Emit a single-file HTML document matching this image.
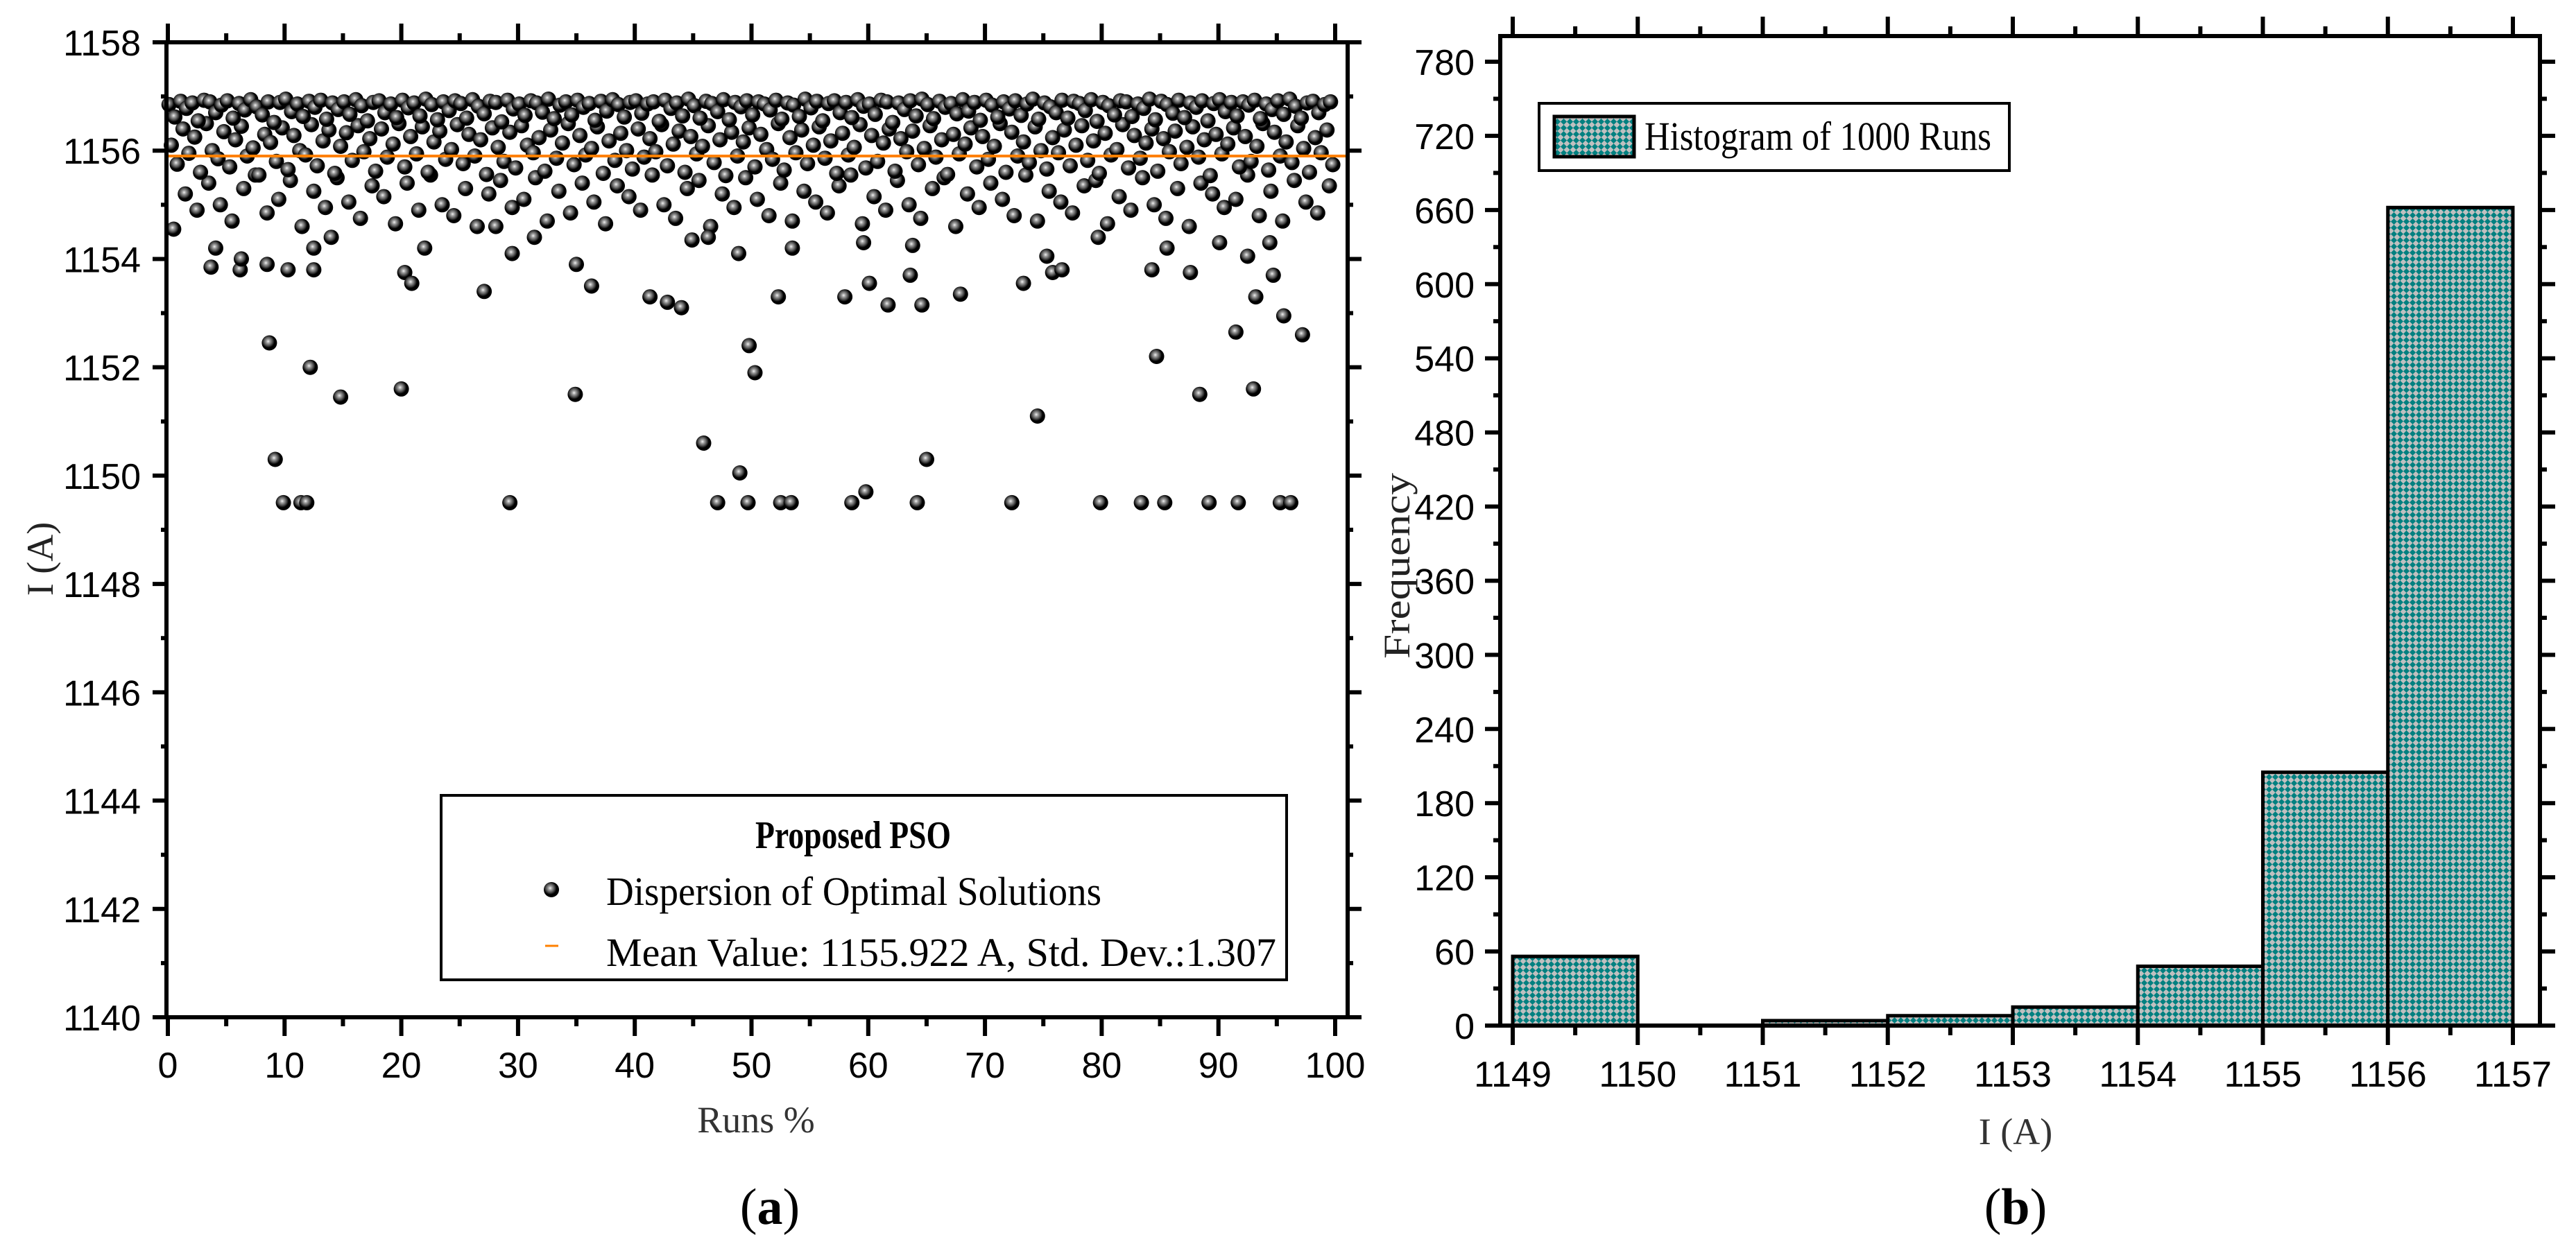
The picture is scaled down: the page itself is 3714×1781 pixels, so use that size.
<!DOCTYPE html>
<html><head><meta charset="utf-8">
<style>
html,body{margin:0;padding:0;background:#fff;}
svg{display:block;}
text{font-family:"Liberation Serif",serif;}
.num{font-family:"Liberation Sans",sans-serif;font-size:52px;fill:#000;}
</style></head>
<body>
<svg id="chart" width="3714" height="1781" viewBox="0 0 3714 1781" xmlns="http://www.w3.org/2000/svg">
<defs>
<radialGradient id="ball" cx="0.42" cy="0.4" r="0.6">
<stop offset="0" stop-color="#f2f2f2"/>
<stop offset="0.2" stop-color="#a0a0a0"/>
<stop offset="0.45" stop-color="#555"/>
<stop offset="0.7" stop-color="#000"/>
<stop offset="1" stop-color="#000"/>
</radialGradient>
<pattern id="hatch" width="9" height="9" patternUnits="userSpaceOnUse">
<rect width="9" height="9" fill="#c0c0c0"/>
<polygon points="4.5,0 9,4.5 4.5,9 0,4.5" fill="#008080"/>
</pattern>
</defs>
<g id="left"></g>
<g id="right"></g>
</svg>
<script>
// ---------- Scatter data ----------
const outlierX=[3.7,4.1,6.2,6.3,8.7,8.5,9.2,9.9,10.3,11.4,11.9,12.2,12.5,12.5,14.0,14.8,20.0,20.3,20.9,22.0,27.1,28.1,29.3,29.5,31.4,34.9,35.0,36.3,41.3,42.8,44.0,44.9,45.9,46.3,47.1,49.0,49.7,49.8,50.3,48.9,52.3,52.5,53.4,53.5,58.6,58.0,59.8,59.6,60.1,61.7,63.6,63.8,64.2,64.6,65.0,67.9,72.3,73.3,74.5,75.3,75.8,76.6,79.7,79.9,83.4,84.3,84.7,85.4,85.6,87.6,88.4,89.2,90.1,91.5,91.7,92.5,93.0,93.2,94.4,94.7,95.6,95.3,96.2,97.2];
const outlierY=[1153.85,1154.2,1153.8,1154.0,1152.45,1153.9,1150.3,1149.5,1153.8,1149.5,1149.5,1152.0,1153.8,1154.2,1154.4,1151.45,1151.6,1153.75,1153.55,1154.2,1153.4,1154.6,1149.5,1154.1,1154.4,1151.5,1153.9,1153.5,1153.3,1153.2,1153.1,1154.35,1150.6,1154.4,1149.5,1150.05,1149.5,1152.4,1151.9,1154.1,1153.3,1149.5,1149.5,1154.2,1149.5,1153.3,1149.7,1154.3,1153.55,1153.15,1153.7,1154.25,1149.5,1153.15,1150.3,1153.35,1149.5,1153.55,1151.1,1154.05,1153.75,1153.8,1154.4,1149.5,1149.5,1153.8,1152.2,1149.5,1154.2,1153.75,1151.5,1149.5,1154.3,1152.65,1149.5,1154.05,1151.6,1153.3,1154.3,1153.7,1152.95,1149.5,1149.5,1152.6];
// band values; run position = index * 0.5 (+ offset per band)
const bandTop=[1156.85,1156.62,1156.91,1156.78,1156.88,1156.55,1156.93,1156.9,1156.7,1156.84,
1156.92,1156.6,1156.87,1156.75,1156.94,1156.81,1156.66,1156.9,1156.52,1156.89,
1156.95,1156.72,1156.86,1156.63,1156.91,1156.8,1156.93,1156.58,1156.88,1156.76,
1156.9,1156.67,1156.94,1156.83,1156.55,1156.89,1156.92,1156.7,1156.86,1156.61,
1156.93,1156.79,1156.88,1156.64,1156.95,1156.85,1156.57,1156.9,1156.74,1156.92,
1156.87,1156.6,1156.94,1156.82,1156.68,1156.91,1156.89,1156.53,1156.93,1156.77,
1156.86,1156.65,1156.92,1156.88,1156.71,1156.95,1156.59,1156.84,1156.9,1156.66,
1156.93,1156.8,1156.87,1156.56,1156.91,1156.73,1156.94,1156.85,1156.62,1156.89,
1156.92,1156.69,1156.86,1156.9,1156.54,1156.93,1156.78,1156.88,1156.64,1156.95,
1156.83,1156.6,1156.91,1156.87,1156.72,1156.94,1156.57,1156.89,1156.81,1156.92,
1156.66,1156.9,1156.86,1156.75,1156.93,1156.58,1156.88,1156.84,1156.63,1156.95,
1156.79,1156.91,1156.55,1156.87,1156.92,1156.7,1156.89,1156.61,1156.94,1156.82,
1156.86,1156.67,1156.93,1156.9,1156.52,1156.88,1156.76,1156.92,1156.64,1156.95,
1156.85,1156.59,1156.91,1156.8,1156.87,1156.68,1156.94,1156.73,1156.89,1156.56,
1156.93,1156.84,1156.62,1156.9,1156.77,1156.92,1156.65,1156.86,1156.95,1156.58,
1156.88,1156.81,1156.7,1156.93,1156.6,1156.91,1156.87,1156.74,1156.94,1156.54,
1156.89,1156.83,1156.66,1156.92,1156.9,1156.63,1156.86,1156.78,1156.95,1156.57,
1156.91,1156.85,1156.69,1156.93,1156.61,1156.88,1156.8,1156.92,1156.55,1156.87,
1156.94,1156.72,1156.89,1156.64,1156.9,1156.84,1156.93,1156.59,1156.86,1156.76,
1156.92,1156.67,1156.95,1156.82,1156.6,1156.88,1156.91,1156.7,1156.85,1156.9];
const bandMid=[1156.1,1155.75,1156.4,1155.95,1156.25,1155.6,1156.5,1156.0,1155.85,1156.35,
1155.7,1156.2,1156.45,1155.9,1156.05,1155.55,1156.3,1156.15,1155.8,1156.42,
1155.65,1156.28,1156.0,1155.92,1156.48,1155.72,1156.18,1156.38,1155.58,1156.08,
1156.33,1155.82,1156.46,1155.98,1156.22,1155.62,1156.4,1155.88,1156.12,1156.5,
1155.7,1156.26,1155.94,1156.44,1155.6,1156.16,1156.36,1155.84,1156.02,1156.48,
1155.76,1156.3,1155.9,1156.2,1155.56,1156.42,1156.06,1155.8,1156.34,1155.68,
1156.46,1156.1,1155.96,1156.24,1155.62,1156.38,1155.86,1156.14,1156.5,1155.74,
1156.28,1155.92,1156.04,1156.44,1155.58,1156.18,1155.82,1156.32,1156.0,1155.66,
1156.4,1155.88,1156.22,1155.98,1156.48,1155.72,1156.12,1156.36,1155.6,1156.26,
1155.94,1156.08,1156.46,1155.78,1156.2,1155.54,1156.34,1155.9,1156.16,1156.42,
1155.7,1156.3,1156.02,1155.84,1156.5,1155.64,1156.24,1155.96,1156.38,1155.76,
1156.1,1156.44,1155.86,1156.18,1155.58,1156.32,1155.92,1156.06,1156.48,1155.68,
1156.28,1155.8,1156.14,1156.4,1155.62,1156.22,1155.98,1156.36,1155.74,1156.04,
1156.46,1155.88,1156.2,1155.56,1156.3,1155.94,1156.12,1156.42,1155.7,1156.26,
1155.84,1156.08,1156.5,1155.6,1156.34,1155.9,1156.16,1155.78,1156.44,1156.0,
1155.66,1156.24,1155.96,1156.38,1155.72,1156.1,1156.46,1155.82,1156.18,1155.58,
1156.32,1155.92,1156.02,1156.48,1155.68,1156.28,1155.86,1156.14,1156.4,1155.62,
1156.22,1155.98,1156.36,1155.76,1156.06,1156.44,1155.88,1156.2,1155.54,1156.3,
1155.94,1156.12,1156.42,1155.7,1156.26,1155.8,1156.08,1156.5,1155.64,1156.34,
1155.9,1156.16,1155.78,1156.46,1156.04,1155.6,1156.24,1155.96,1156.38,1155.74];
const bandLow=[1154.55,1155.2,1154.9,1155.4,1155.0,1154.7,1155.3,1155.55,1154.85,1155.1,
1155.45,1154.6,1155.25,1154.95,1155.5,1155.05,1154.75,1155.35,1155.15,1154.65,
1155.4,1154.9,1155.55,1155.0,1154.8,1155.3,1154.6,1155.2,1155.45,1154.95,
1155.1,1155.5,1154.7,1155.25,1154.85,1155.4,1155.05,1154.65,1155.35,1155.15,
1154.9,1155.55,1155.0,1154.75,1155.3,1155.45,1154.6,1155.2,1154.95,1155.5,
1155.1,1154.8,1155.4,1154.7,1155.25,1155.05,1154.85,1155.35,1155.55,1154.65,
1155.15,1154.9,1155.45,1155.0,1154.75,1155.3,1155.5,1154.6,1155.2,1154.95,
1155.4,1155.1,1154.8,1155.55,1154.7,1155.25,1155.05,1154.85,1155.35,1155.45,
1154.65,1155.15,1154.9,1155.5,1155.0,1154.75,1155.3,1154.6,1155.4,1155.2,
1154.95,1155.1,1155.55,1154.8,1155.25,1154.7,1155.45,1155.05,1154.85,1155.35];
const meanValue=1155.9;
const xTicksL=[0,10,20,30,40,50,60,70,80,90,100];
const yTicksL=[1140,1142,1144,1146,1148,1150,1152,1154,1156,1158];
// ---------- Histogram data ----------
const binStarts=[1149,1150,1151,1152,1153,1154,1155,1156];
const binCounts=[56,0,4,8,15,48,205,662];
const xTicksR=[1149,1150,1151,1152,1153,1154,1155,1156,1157];
const yTicksR=[0,60,120,180,240,300,360,420,480,540,600,660,720,780];

const NS='http://www.w3.org/2000/svg';
function mk(parent,tag,attrs,txt){const e=document.createElementNS(NS,tag);for(const k in attrs)e.setAttribute(k,attrs[k]);if(txt!==undefined)e.textContent=txt;parent.appendChild(e);return e;}

// ===== Left scatter =====
const L=document.getElementById('left');
const lx=v=>242+(v-0)*(1925-242)/100;
const ly=v=>1467-(v-1140)*(1467-61)/18;
const AL={x0:240,x1:1943,y0:61,y1:1467};
const ptsG=mk(L,'g',{});


function dot(x,y){const c=mk(ptsG,'circle',{cx:lx(x).toFixed(1),cy:ly(y).toFixed(1),r:11,fill:'url(#ball)'});

}
bandLow.forEach((v,i)=>dot(i*1+0.5,v));
bandMid.forEach((v,i)=>dot(i*0.5+0.3,v));
bandTop.forEach((v,i)=>dot(i*0.5+0.1,v));
outlierX.forEach((x,i)=>dot(x,outlierY[i]));
const ml=mk(L,'line',{x1:AL.x0,x2:AL.x1,y1:ly(meanValue),y2:ly(meanValue),stroke:'#ff8000','stroke-width':4});


const fr=mk(L,'rect',{x:AL.x0,y:AL.y0,width:AL.x1-AL.x0,height:AL.y1-AL.y0,fill:'none',stroke:'#000','stroke-width':6});


for(let v=0;v<=100;v+=5){const maj=v%10===0;const X=lx(v);
mk(L,'line',{x1:X,x2:X,y1:AL.y1,y2:AL.y1+(maj?27:13),stroke:'#000','stroke-width':6});
mk(L,'line',{x1:X,x2:X,y1:AL.y0,y2:AL.y0-(maj?27:13),stroke:'#000','stroke-width':6});}
for(let v=1140;v<=1158;v+=1){const maj=v%2===0;const Y=ly(v);
mk(L,'line',{x1:AL.x0,x2:AL.x0-(maj?20:8),y1:Y,y2:Y,stroke:'#000','stroke-width':6});
mk(L,'line',{x1:AL.x1,x2:AL.x1+(maj?20:8),y1:Y,y2:Y,stroke:'#000','stroke-width':6});}
xTicksL.forEach(v=>{const t=mk(L,'text',{x:lx(v),y:1554,'text-anchor':'middle',class:'num'},String(v));

});
yTicksL.forEach(v=>{const t=mk(L,'text',{x:203,y:ly(v)+19,'text-anchor':'end',class:'num'},String(v));

});
let t;
t=mk(L,'text',{x:1090,y:1633,'text-anchor':'middle','font-size':54,fill:'#333'},'Runs %');


t=mk(L,'text',{x:0,y:0,'text-anchor':'middle','font-size':54,fill:'#222',transform:'translate(76,806) rotate(-90)'},'I (A)');


const cap=mk(L,'text',{x:1110,y:1765,'text-anchor':'middle','font-size':74},'');
cap.innerHTML='(<tspan font-weight="bold">a</tspan>)';


const lg=mk(L,'g',{});


mk(lg,'rect',{x:636,y:1147,width:1219,height:266,fill:'#fff',stroke:'#000','stroke-width':4});
t=mk(lg,'text',{x:1089,y:1223,'font-size':56,'font-weight':'bold',textLength:282,lengthAdjust:'spacingAndGlyphs'},'Proposed PSO');


const lm=mk(lg,'circle',{cx:795,cy:1283,r:11,fill:'url(#ball)'});


t=mk(lg,'text',{x:874,y:1305,'font-size':58,textLength:714,lengthAdjust:'spacingAndGlyphs'},'Dispersion of Optimal Solutions');


const lmd=mk(lg,'line',{x1:786,x2:805,y1:1364,y2:1364,stroke:'#ff8000','stroke-width':3});


t=mk(lg,'text',{x:874,y:1393,'font-size':58,textLength:966,lengthAdjust:'spacingAndGlyphs'},'Mean Value: 1155.922 A, Std. Dev.:1.307');



// ===== Right histogram =====
const R=document.getElementById('right');
const rx=v=>2181+(v-1149)*(3623-2181)/8;
const ry=v=>1479-v*(1479-89)/780;
const AR={x0:2163,x1:3662,y0:52,y1:1479};
binStarts.forEach((b,i)=>{const x0=rx(b),x1=rx(b+1),y=ry(binCounts[i]);
const r=mk(R,'rect',{x:x0,y:y,width:x1-x0,height:AR.y1-y,fill:'url(#hatch)',stroke:'#000','stroke-width':5});

});
const fr2=mk(R,'rect',{x:AR.x0,y:AR.y0,width:AR.x1-AR.x0,height:AR.y1-AR.y0,fill:'none',stroke:'#000','stroke-width':6});


for(let v=1149;v<=1157;v+=0.5){const maj=Math.abs(v-Math.round(v))<0.01;const X=rx(v);
mk(R,'line',{x1:X,x2:X,y1:AR.y1,y2:AR.y1+(maj?28:14),stroke:'#000','stroke-width':6});
mk(R,'line',{x1:X,x2:X,y1:AR.y0,y2:AR.y0-(maj?28:14),stroke:'#000','stroke-width':6});}
for(let v=0;v<=780;v+=30){const maj=v%60===0;const Y=ry(v);
mk(R,'line',{x1:AR.x0,x2:AR.x0-(maj?22:10),y1:Y,y2:Y,stroke:'#000','stroke-width':6});
mk(R,'line',{x1:AR.x1,x2:AR.x1+(maj?22:10),y1:Y,y2:Y,stroke:'#000','stroke-width':6});}
xTicksR.forEach(v=>{const t=mk(R,'text',{x:rx(v),y:1567,'text-anchor':'middle',class:'num'},String(v));

});
yTicksR.forEach(v=>{const t=mk(R,'text',{x:2126,y:ry(v)+19,'text-anchor':'end',class:'num'},String(v));

});
t=mk(R,'text',{x:2906,y:1650,'text-anchor':'middle','font-size':54,fill:'#333'},'I (A)');


t=mk(R,'text',{x:0,y:0,'text-anchor':'middle','font-size':54,fill:'#222',transform:'translate(2032,816) rotate(-90)',textLength:268,lengthAdjust:'spacingAndGlyphs'},'Frequency');


const cap2=mk(R,'text',{x:2906,y:1765,'text-anchor':'middle','font-size':74},'');
cap2.innerHTML='(<tspan font-weight="bold">b</tspan>)';


const lg2=mk(R,'g',{});


mk(lg2,'rect',{x:2219,y:149,width:678,height:97,fill:'#fff',stroke:'#000','stroke-width':4});
const sw=mk(lg2,'rect',{x:2241,y:168,width:115,height:58,fill:'url(#hatch)',stroke:'#000','stroke-width':5});


t=mk(lg2,'text',{x:2371,y:216,'font-size':58,textLength:500,lengthAdjust:'spacingAndGlyphs'},'Histogram of 1000 Runs');


</script>
</body></html>
